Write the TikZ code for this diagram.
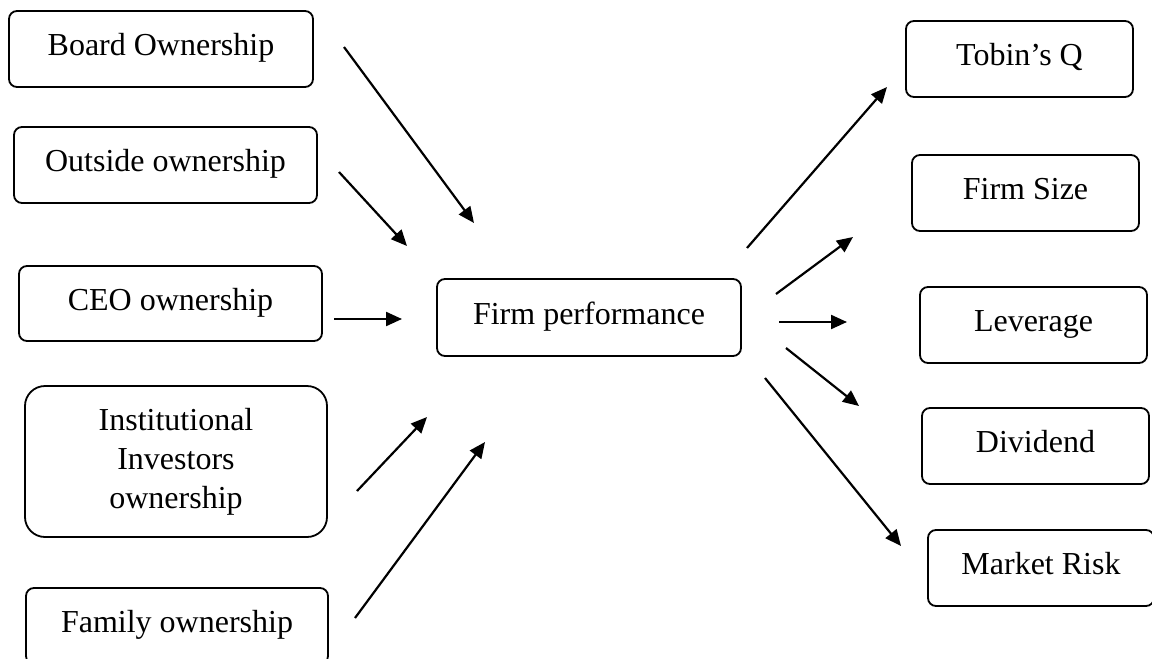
\documentclass[tikz,border=0pt]{standalone}
\usepackage{fontspec}
\setmainfont{Liberation Serif}
\usetikzlibrary{arrows.meta}
\begin{document}
\begin{tikzpicture}[x=0.5pt,y=-0.5pt,
  box/.style={draw, line width=0.9pt, rounded corners=4pt, inner sep=0pt,
    font=\fontsize{16}{19.5}\selectfont, text height=11.2pt, text depth=4.4pt},
  bigbox/.style={draw, line width=0.9pt, rounded corners=10pt, inner sep=0pt,
    font=\fontsize{16}{19.5}\selectfont, align=center},
  arr/.style={line width=1.1pt, -{Triangle[length=8pt,width=7pt]}}]
\useasboundingbox (0,0) rectangle (1152,659);
\fill[white] (0,0) rectangle (1152,659);
% left boxes
\node[box, minimum width=152pt, minimum height=38pt] (board) at (161,49) {Board Ownership};
\node[box, minimum width=151.5pt, minimum height=38pt] (outside) at (165.5,165) {Outside ownership};
\node[box, minimum width=151.5pt, minimum height=37.5pt] (ceo) at (170.5,303.5) {CEO ownership};
\node[bigbox, minimum width=151pt, minimum height=75.5pt] (inst) at (176,461.5) {Institutional\\Investors\\ownership};
\node[box, minimum width=151pt, minimum height=38pt] (family) at (177,626) {Family ownership};
% centre
\node[box, minimum width=152pt, minimum height=38.5pt] (firm) at (589,317.5) {Firm performance};
% right boxes
\node[box, minimum width=113.5pt, minimum height=38pt] (tobin) at (1019.5,59) {Tobin’s Q};
\node[box, minimum width=113.5pt, minimum height=38pt] (size) at (1025.5,193) {Firm Size};
\node[box, minimum width=113.5pt, minimum height=38pt] (lev) at (1033.5,325) {Leverage};
\node[box, minimum width=113.5pt, minimum height=38pt] (div) at (1035.5,446) {Dividend};
\node[box, minimum width=113pt, minimum height=38pt] (risk) at (1041,568) {Market Risk};
% arrow end points
\coordinate (a1s) at (344,47);  \coordinate (a1e) at (474,223);
\coordinate (a2s) at (339,172); \coordinate (a2e) at (407,246);
\coordinate (a3s) at (334,319); \coordinate (a3e) at (402,319);
\coordinate (a4s) at (357,491); \coordinate (a4e) at (427,417);
\coordinate (a5s) at (355,618); \coordinate (a5e) at (485,442);
\coordinate (b1s) at (747,248); \coordinate (b1e) at (887,87);
\coordinate (b2s) at (776,294); \coordinate (b2e) at (853,237);
\coordinate (b3s) at (779,322); \coordinate (b3e) at (847,322);
\coordinate (b4s) at (786,348); \coordinate (b4e) at (859,406);
\coordinate (b5s) at (765,378); \coordinate (b5e) at (901,546);
\foreach \a in {a1,a2,a3,a4,a5,b1,b2,b3,b4,b5}
  \draw[arr] (\a s) -- (\a e);
\end{tikzpicture}
\end{document}
